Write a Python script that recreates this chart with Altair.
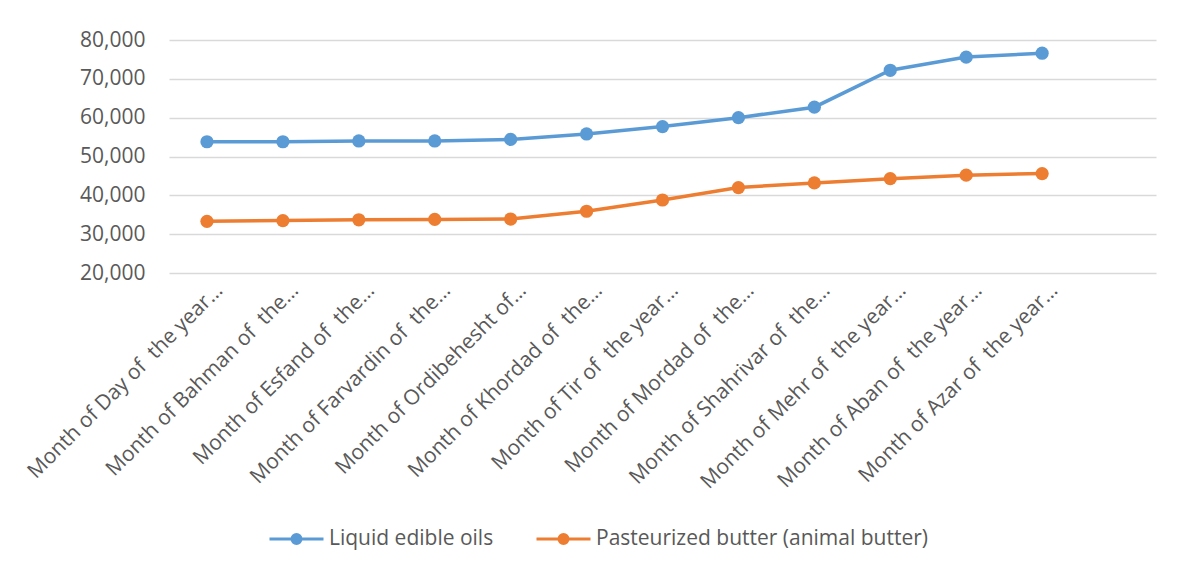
import altair as alt
import pandas as pd

NB = "\u00a0 "
months = [
    "Month of Day of" + NB + "the year…",
    "Month of Bahman of" + NB + "the…",
    "Month of Esfand of" + NB + "the…",
    "Month of Farvardin of" + NB + "the…",
    "Month of Ordibehesht of…",
    "Month of Khordad of" + NB + "the…",
    "Month of Tir of" + NB + "the year…",
    "Month of Mordad of" + NB + "the…",
    "Month of Shahrivar of" + NB + "the…",
    "Month of Mehr of" + NB + "the year…",
    "Month of Aban of" + NB + "the year…",
    "Month of Azar of" + NB + "the year…",
]
oils = [53800, 53800, 54000, 54000, 54400, 55800, 57700, 60000, 62700, 72200, 75600, 76600]
butter = [33300, 33500, 33700, 33800, 33900, 35900, 38800, 42000, 43200, 44300, 45200, 45600]
series_names = ["Liquid edible oils", "Pasteurized butter (animal butter)"]
colors = ["#5b9bd5", "#ed7d31"]

rows = []
for i, m in enumerate(months):
    rows.append({"month": m, "series": series_names[0], "value": oils[i], "order": i})
    rows.append({"month": m, "series": series_names[1], "value": butter[i], "order": i})
df = pd.DataFrame(rows)

FONT = "Open Sans"
GREY = "#595959"
FS = 21
x_domain = months + [" "]

x = alt.X("month:N", sort=x_domain,
          scale=alt.Scale(domain=x_domain, type="point", padding=0.5),
          axis=alt.Axis(title=None, labelAngle=-45, labelAlign="right", labelBaseline="middle",
                        labelFontSize=FS, labelColor=GREY, labelFont=FONT, labelLimit=500,
                        labelPadding=14, labelOffset=12, ticks=False, domain=False, grid=False))
y = alt.Y("value:Q",
          scale=alt.Scale(domain=[20000, 80000], nice=False, zero=False),
          axis=alt.Axis(title=None, values=[20000, 30000, 40000, 50000, 60000, 70000, 80000],
                        format=",.0f", labelFontSize=FS, labelColor=GREY, labelFont=FONT,
                        labelPadding=24, ticks=False, domain=False,
                        gridColor="#d9d9d9", gridWidth=1.5))
color_scale = alt.Scale(domain=series_names, range=colors)

sym = ("M-1,0L1,0"
       "M0.167,0A0.167,0.167,0,1,1,-0.167,0A0.167,0.167,0,1,1,0.167,0"
       "M0.056,0A0.056,0.056,0,1,1,-0.056,0A0.056,0.056,0,1,1,0.056,0")

lines = alt.Chart(df).mark_line(strokeWidth=3.5).encode(
    x=x, y=y,
    order="order:Q",
    color=alt.Color("series:N", scale=color_scale,
                    legend=alt.Legend(title=None, orient="none", legendX=99, legendY=470,
                                      direction="horizontal", symbolType=sym, symbolSize=2916,
                                      symbolStrokeWidth=3, labelFontSize=FS, labelColor=GREY,
                                      labelFont=FONT, labelOffset=4, columnPadding=36,
                                      labelLimit=500)),
)
points = alt.Chart(df).mark_point(filled=True, size=175, opacity=1).encode(
    x=x, y=y,
    color=alt.Color("series:N", scale=color_scale, legend=None),
)

chart = alt.layer(lines, points).properties(
    width=987, height=233,
    padding={"left": 161, "top": 32, "right": 13, "bottom": 293},
    autosize=alt.AutoSizeParams(type="none"),
).configure_view(stroke=None)

chart.save("out.html", embed_options={"renderer": "svg", "actions": False})
